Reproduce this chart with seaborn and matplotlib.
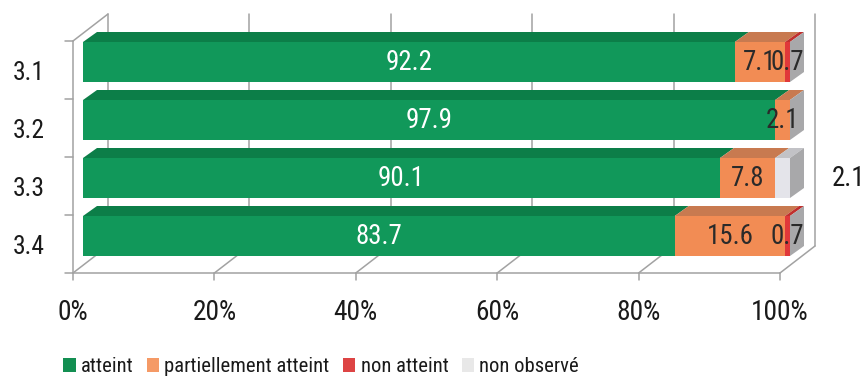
import matplotlib
matplotlib.use("Agg")
import matplotlib.pyplot as plt
from matplotlib import font_manager as fm
import numpy as np
import pandas as pd
import seaborn as sns
from matplotlib.patches import Polygon, Patch

# ---- data -------------------------------------------------------------
categories = ["3.1", "3.2", "3.3", "3.4"]
atteint = [92.2, 97.9, 90.1, 83.7]
partiellement = [7.1, 2.1, 7.8, 15.6]
non_atteint = [0.7, 0.0, 0.0, 0.7]
non_observe = [0.0, 0.0, 2.1, 0.0]
series_names = ["atteint", "partiellement atteint", "non atteint", "non observé"]
tick_values = [0, 20, 40, 60, 80, 100]
tick_labels = ["0%", "20%", "40%", "60%", "80%", "100%"]

# ---- style ------------------------------------------------------------
sns.set_theme(style="white")
installed = {f.name for f in fm.fontManager.ttflist}
family = "DejaVu Sans"
for cand in ["Liberation Sans Narrow", "Arial Narrow", "Roboto Condensed",
             "Open Sans Condensed", "Noto Sans Condensed", "Liberation Sans"]:
    if cand in installed:
        family = cand
        break
plt.rcParams["font.family"] = [family, "DejaVu Sans"]

front_colors = ["#11985a", "#f28c54", "#e0383a", "#e4e4ea"]
top_colors = ["#0c7e48", "#c87a50", "#c0302e", "#c2c2c6"]
side_color = "#a8a8aa"
legend_colors = ["#138f52", "#f59a66", "#dd4444", "#e8e8e8"]
frame_color = "#a2a2a2"
label_colors = ["white", "#2a2a2a", "#2a2a2a", "#2a2a2a"]
text_color = "#1a1a1a"

W, H = 868, 385
fig = plt.figure(figsize=(W / 100, H / 100), dpi=100)
renderer = fig.canvas.get_renderer()


def fit_size(s, target_px, base=20.0):
    """Font size at which string s spans target_px pixels."""
    t = fig.text(0, 0, s, fontsize=base)
    w = t.get_window_extent(renderer).width
    t.remove()
    return base * target_px / w


fs_tick = fit_size("100%", 58)
fs_value = fit_size("92.2", 47)
fs_cat = fit_size("3.1", 32)
fs_legend = fit_size("partiellement atteint", 164)

# floor axes: front edge of the 3D floor, pixel box 73..780 x 41..273
ax = fig.add_axes([73 / W, (H - 273) / H, 707 / W, 232 / H])
# bar axes: same scale, set back 10 px right and 8 px up
axb = fig.add_axes([83 / W, (H - 265) / H, 707 / W, 232 / H])

PX = 100 / 707      # data units per pixel (x)
PY = 1 / 58         # data units per pixel (y, axis inverted)
dep_x, dep_y = 14 * PX, 10 * PY       # bar depth
wall_x, wall_y = 35 * PX, 27 * PY     # floor/wall depth
bar_h = 40 / 58

series = [atteint, partiellement, non_atteint, non_observe]
cums = np.cumsum(np.array(series), axis=0)
df = pd.DataFrame({"cat": categories})
for k, name in enumerate(series_names):
    df[name] = cums[k]

# ---- frame (walls and floor) -----------------------------------------
lk = dict(color=frame_color, lw=1.1, clip_on=False, zorder=0.5)
ax.plot([0, 100], [3.5, 3.5], **lk)
for x in tick_values:
    ax.plot([x, x], [3.5, 3.5 + 7 * PY], **lk)
    ax.plot([x, x + wall_x], [3.5, 3.5 - wall_y], **lk)
    ax.plot([x + wall_x, x + wall_x], [3.5 - wall_y, -0.5 - wall_y], **lk)
ax.plot([0, 0], [-0.5, 3.5], **lk)
for y in np.arange(-0.5, 3.6, 1.0):
    ax.plot([0, -8 * PX], [y, y], **lk)
ax.plot([0, wall_x], [-0.5, -0.5 - wall_y], **lk)

# ---- stacked bars (front faces) --------------------------------------
for k in range(len(series_names) - 1, -1, -1):
    sns.barplot(data=df, x=series_names[k], y="cat", orient="h",
                color=front_colors[k], saturation=1, width=bar_h,
                linewidth=0, ax=axb)

# ---- top and side faces ----------------------------------------------
for i in range(len(categories)):
    yt = i - bar_h / 2
    yb = i + bar_h / 2
    left = 0.0
    for k in range(len(series_names)):
        v = series[k][i]
        if v > 0:
            x0, x1 = left, left + v
            axb.add_patch(Polygon([(x0, yt), (x1, yt), (x1 + dep_x, yt - dep_y),
                                   (x0 + dep_x, yt - dep_y)], closed=True,
                                  facecolor=top_colors[k], edgecolor="none",
                                  clip_on=False))
        left += v
    axb.add_patch(Polygon([(left, yt), (left, yb), (left + dep_x, yb - dep_y),
                           (left + dep_x, yt - dep_y)], closed=True,
                          facecolor=side_color, edgecolor="none",
                          clip_on=False))

# ---- value labels ----------------------------------------------------
for i in range(len(categories)):
    left = 0.0
    for k in range(len(series_names)):
        v = series[k][i]
        if v > 0:
            if k == 3:
                xt, col = 100 + 58 * PX, text_color
            else:
                xt, col = left + v / 2, label_colors[k]
            axb.text(xt, i, f"{v:.1f}", ha="center", va="center",
                     fontsize=fs_value, color=col, clip_on=False)
        left += v

# ---- axes --------------------------------------------------------------
for a in (ax, axb):
    a.set_xlim(0, 100)
    a.set_ylim(3.5, -0.5)
    a.set_xlabel("")
    a.set_ylabel("")
    a.grid(False)
    a.set_facecolor("none")
    for s in a.spines.values():
        s.set_visible(False)
axb.set_xticks([])
axb.set_yticks([])

ax.set_xticks(tick_values)
ax.set_xticklabels(tick_labels, fontsize=fs_tick, color=text_color)
ax.set_yticks(range(len(categories)))
ax.set_yticklabels(categories, fontsize=fs_cat, color=text_color)
ax.tick_params(axis="x", length=0, pad=19)
ax.tick_params(axis="y", length=0, pad=20)

handles = [Patch(facecolor=c, edgecolor="none", label=n)
           for c, n in zip(legend_colors, series_names)]
fig.legend(handles=handles, loc="center", bbox_to_anchor=(0.37, 0.047),
           ncol=4, frameon=False, fontsize=fs_legend, handlelength=0.6,
           handleheight=0.65, handletextpad=0.25, columnspacing=0.65,
           labelcolor=text_color)

fig.savefig("out.png", dpi=100, facecolor="white")
